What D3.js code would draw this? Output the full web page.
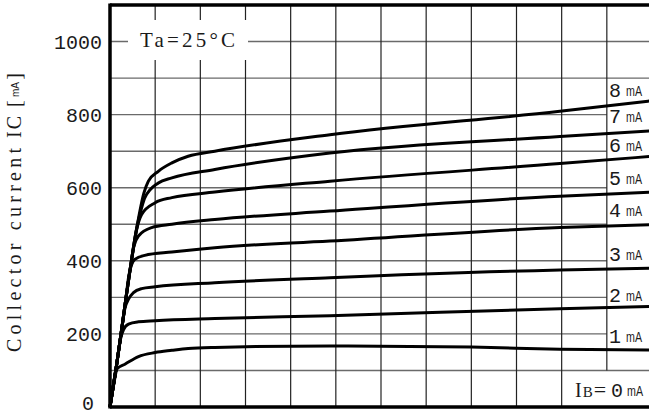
<!DOCTYPE html>
<html>
<head>
<meta charset="utf-8">
<script src="https://cdn.jsdelivr.net/npm/d3@7"></script>
<style>
  html, body { margin: 0; padding: 0; background: #fff; }
  svg { display: block; }
</style>
</head>
<body>
<svg id="chart" width="649" height="416"></svg>
<script>
// Output characteristics: collector current vs. collector-emitter voltage, Ta = 25°C
const yTicks = [0, 200, 400, 600, 800, 1000];
const yGrid = [100, 200, 300, 400, 500, 600, 700, 800, 900, 1000];
const xGrid = [1, 2, 3, 4, 5, 6, 7, 8, 9, 10, 11];

// base current of each curve (mA) and its label
const baseCurrents = [1, 2, 3, 4, 5, 6, 7, 8];

// [VCE, IC mA] points for each base current
const ib1 = [[0,0],[0.08,60],[0.16,105],[0.33,117],[0.63,138],[1.0,149],[1.37,155],[1.73,160],[2.32,163],[4.87,167],[8.0,164],[9.96,158],[12,156]];
const ib2 = [[0,0],[0.14,110],[0.24,190],[0.30,212],[0.41,227],[0.63,233],[1.0,236],[2.32,242],[4.87,250],[9.96,269],[12,275]];
const ib3 = [[0,0],[0.14,110],[0.25,205],[0.33,270],[0.41,295],[0.52,313],[0.70,324],[1.0,329],[2.32,340],[4.87,354],[9.96,375],[12,380]];
const ib4 = [[0,0],[0.14,110],[0.25,205],[0.35,295],[0.42,362],[0.48,390],[0.55,404],[0.77,415],[1.37,424],[2.32,436],[4.87,454],[9.96,491],[12,499]];
const ib5 = [[0,0],[0.14,110],[0.25,205],[0.35,295],[0.45,380],[0.53,440],[0.63,468],[0.92,491],[1.37,500],[2.32,513],[4.87,536],[9.96,577],[12,588]];
const ib6 = [[0,0],[0.14,110],[0.25,205],[0.35,295],[0.45,380],[0.58,480],[0.70,527],[1.0,559],[1.37,573],[2.32,588],[4.87,618],[9.96,666],[12,686]];
const ib7 = [[0,0],[0.14,110],[0.25,205],[0.35,295],[0.45,380],[0.60,495],[0.70,545],[0.77,572],[1.07,613],[1.37,627],[2.32,650],[4.87,695],[9.96,740],[12,756]];
const ib8 = [[0,0],[0.14,110],[0.25,205],[0.35,295],[0.45,380],[0.60,495],[0.75,585],[0.85,618],[1.07,645],[1.37,668],[1.73,686],[2.32,700],[4.87,745],[9.96,809],[12,838]];
const series = [ib1, ib2, ib3, ib4, ib5, ib6, ib7, ib8];

const svg = d3.select("#chart");
const x = d3.scaleLinear().domain([0, 12]).range([110, 652]);
const y = d3.scaleLinear().domain([0, 1100]).range([407, 5]);

const monoFont = "'Liberation Mono', 'DejaVu Sans Mono', monospace";
const serifFont = "'Liberation Serif', 'DejaVu Serif', serif";
const smallFont = "'Liberation Sans', Arial, sans-serif";
const ink = "#1a1a1a";

// label column on the right: grid lines stop at the 11th division
const labelCol = 11;
const gridG = svg.append("g");

gridG.selectAll("line.h").data(yGrid).enter().append("line")
  .attr("x1", x(0))
  .attr("x2", d => (d >= 200 && d <= 800) ? x(labelCol) : 649)
  .attr("y1", d => y(d)).attr("y2", d => y(d))
  .attr("stroke", "#6a6a6a").attr("stroke-width", 1.4);

gridG.selectAll("line.v").data(xGrid).enter().append("line")
  .attr("x1", d => x(d)).attr("x2", d => x(d))
  .attr("y1", y(1100))
  .attr("y2", d => d === labelCol ? y(100) : y(0))
  .attr("stroke", "#222").attr("stroke-width", 1.2);

// temperature note box
svg.append("rect")
  .attr("x", 128).attr("y", 20).attr("width", 120).attr("height", 40)
  .attr("fill", "#fff");
svg.append("text")
  .attr("x", 140).attr("y", 47)
  .attr("font-family", serifFont).attr("font-size", 21)
  .attr("textLength", 95).attr("lengthAdjust", "spacing")
  .attr("fill", ink)
  .text("Ta=25°C");

// curves
const line = d3.line()
  .x(d => x(d[0])).y(d => y(d[1]))
  .curve(d3.curveMonotoneX);

svg.append("g").selectAll("path").data(series).enter().append("path")
  .attr("d", line)
  .attr("fill", "none")
  .attr("stroke", "#000")
  .attr("stroke-width", 3)
  .attr("stroke-linejoin", "round");

// frame: left, top and bottom
svg.append("line").attr("x1", x(0)).attr("x2", x(0)).attr("y1", y(1100) - 1.5).attr("y2", y(0) + 1.5)
  .attr("stroke", "#000").attr("stroke-width", 3.5);
svg.append("line").attr("x1", x(0)).attr("x2", 649).attr("y1", y(1100)).attr("y2", y(1100))
  .attr("stroke", "#000").attr("stroke-width", 3.5);
svg.append("line").attr("x1", x(0)).attr("x2", 649).attr("y1", y(0)).attr("y2", y(0))
  .attr("stroke", "#000").attr("stroke-width", 3.5);

// y tick labels
svg.append("g").selectAll("text").data(yTicks.filter(d => d > 0)).enter().append("text")
  .attr("x", 102)
  .attr("y", d => y(d) + 7)
  .attr("text-anchor", "end")
  .attr("font-family", monoFont).attr("font-size", 20)
  .attr("fill", ink)
  .text(d => d);
svg.append("text")
  .attr("x", 88).attr("y", 410)
  .attr("text-anchor", "middle")
  .attr("font-family", monoFont).attr("font-size", 20)
  .attr("fill", ink)
  .text(yTicks[0]);

// y axis title
const title = svg.append("g").attr("transform", "translate(21,352) rotate(-90)");
title.append("text")
  .attr("x", 0).attr("y", 0)
  .attr("font-family", serifFont).attr("font-size", 20)
  .attr("textLength", 204).attr("lengthAdjust", "spacing")
  .attr("fill", ink)
  .text("Collector current");
title.append("text")
  .attr("x", 214).attr("y", 0)
  .attr("font-family", serifFont).attr("font-size", 20)
  .attr("textLength", 22).attr("lengthAdjust", "spacing")
  .attr("fill", ink)
  .text("IC");
title.append("text")
  .attr("x", 245).attr("y", 0)
  .attr("font-family", serifFont).attr("font-size", 20)
  .attr("textLength", 34).attr("lengthAdjust", "spacing")
  .attr("fill", ink)
  .text("[  ]");
title.append("text")
  .attr("x", 255).attr("y", -2)
  .attr("font-family", smallFont).attr("font-size", 10)
  .attr("fill", ink)
  .text("mA");

// base current labels in the right column
const labelY = [343, 302, 261, 217, 185, 152, 123, 97];
const labels = svg.append("g");
baseCurrents.forEach((ib, i) => {
  labels.append("text")
    .attr("x", 609).attr("y", labelY[i])
    .attr("font-family", monoFont).attr("font-size", 20)
    .attr("fill", ink)
    .text(ib);
  labels.append("text")
    .attr("x", 626).attr("y", labelY[i] - 1)
    .attr("font-family", smallFont).attr("font-size", 14)
    .attr("textLength", 16).attr("lengthAdjust", "spacingAndGlyphs")
    .attr("fill", ink)
    .text("mA");
});
const ib0 = svg.append("text")
  .attr("x", 575).attr("y", 397)
  .attr("font-family", serifFont).attr("font-size", 20)
  .attr("fill", ink);
ib0.append("tspan").text("I");
ib0.append("tspan").attr("font-size", 15).attr("dx", 1).text("B");
ib0.append("tspan").attr("font-size", 22).attr("dx", 1).text("=");
svg.append("text")
  .attr("x", 611).attr("y", 397)
  .attr("font-family", monoFont).attr("font-size", 20)
  .attr("fill", ink)
  .text("0");
svg.append("text")
  .attr("x", 627).attr("y", 396)
  .attr("font-family", smallFont).attr("font-size", 14)
  .attr("textLength", 16).attr("lengthAdjust", "spacingAndGlyphs")
  .attr("fill", ink)
  .text("mA");
</script>
</body>
</html>
